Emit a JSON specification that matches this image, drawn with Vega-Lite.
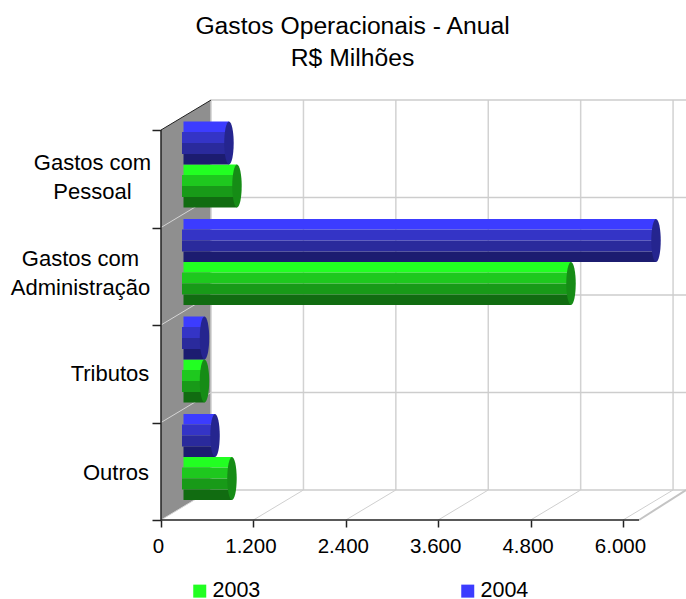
{
"$schema":"https://vega.github.io/schema/vega-lite/v6.json",
"width":525,"height":420,
"autosize":{"type":"none"},
"padding":{"left":161,"top":100,"right":0,"bottom":79},
"background":"white",
"config":{"view":{"stroke":null},"font":"Liberation Sans"},
"title":{"text":["Gastos Operacionais - Anual","R$ Milhões"],"fontSize":24.7,"fontWeight":"normal","color":"black","anchor":"middle","frame":"group","dx":-71,"lineHeight":32,"offset":29},
"datasets":{
"bars":[
{"category":"Gastos com Pessoal","level":3,"year":"2003","value":662},
{"category":"Gastos com Pessoal","level":3,"year":"2004","value":558},
{"category":"Gastos com Administração","level":2,"year":"2003","value":5000},
{"category":"Gastos com Administração","level":2,"year":"2004","value":6104},
{"category":"Tributos","level":1,"year":"2003","value":240},
{"category":"Tributos","level":1,"year":"2004","value":240},
{"category":"Outros","level":0,"year":"2003","value":597},
{"category":"Outros","level":0,"year":"2004","value":377}
],
"ticks":[{"v":0},{"v":1200},{"v":2400},{"v":3600},{"v":4800},{"v":6000}],
"levels":[{"l":0},{"l":1},{"l":2},{"l":3},{"l":4}],
"wall":[{"w":0,"lo":0,"hi":4},{"w":650,"lo":0.3077,"hi":4.3077}]
},
"layer":[
{"data":{"name":"wall"},"mark":{"type":"area","color":"#8f8f8f","orient":"vertical"},
 "encoding":{"x":{"field":"w","type":"quantitative","scale":{"domain":[0,6818],"nice":false,"zero":false},
   "axis":{"values":[0,1200,2400,3600,4800,6000],"title":null,"grid":false,"domain":false,"tickSize":7,"tickColor":"#222","tickWidth":1.5,"labelFontSize":20.5,"labelColor":"black","labelPadding":9,"labelOffset":-3,"labelExpr":"replace(format(datum.value,','),',','.')","labelFlush":false}},
  "y":{"field":"hi","type":"quantitative","scale":{"domain":[0,4.3077],"nice":false,"zero":false},
   "axis":{"values":[0,1,2,3,4],"title":null,"grid":false,"domain":false,"tickSize":9,"tickColor":"#222","tickWidth":1.5,"labelFontSize":22,"labelColor":"black","labelPadding":1,"labelLineHeight":29,
    "labelExpr":"datum.value==3?['Gastos com','Pessoal']:datum.value==2?['Gastos com','Administração']:datum.value==1?'Tributos':datum.value==0?'Outros':''",
    "encoding":{"labels":{"align":{"value":"center"},"dx":{"value":{"signal":"datum.value==3?-59:datum.value==2?-71:datum.value==1?-41.5:-35.5"}},"dy":{"value":{"signal":"datum.value==3?-65:datum.value==2?-67:datum.value==1?-49:-48"}}}}}},
  "y2":{"field":"lo"}}},
{"data":{"name":"ticks"},"transform":[{"calculate":"datum.v+650","as":"b"}],"mark":{"type":"rule","color":"#d2d2d2","strokeWidth":1.5},
 "encoding":{"x":{"field":"b","type":"quantitative"},"y":{"datum":0.3077},"y2":{"datum":4.3077}}},
{"data":{"name":"ticks"},"transform":[{"calculate":"datum.v+650","as":"b"},{"filter":"datum.v>0"}],"mark":{"type":"rule","color":"#cfcfcf","strokeWidth":1},
 "encoding":{"x":{"field":"v","type":"quantitative"},"x2":{"field":"b"},"y":{"datum":0},"y2":{"datum":0.3077}}},
{"data":{"name":"levels"},"transform":[{"calculate":"datum.l+0.3077","as":"b"}],"mark":{"type":"rule","color":"#cdcdcd","strokeWidth":1.5},
 "encoding":{"x":{"datum":650},"x2":{"datum":6818},"y":{"field":"b","type":"quantitative"}}},
{"data":{"name":"levels"},"transform":[{"calculate":"datum.l+0.3077","as":"b"},{"filter":"datum.l<4"}],"mark":{"type":"rule","color":"#d5d5d5","strokeWidth":1},
 "encoding":{"x":{"datum":0},"x2":{"datum":650},"y":{"field":"l","type":"quantitative"},"y2":{"field":"b"}}},
{"data":{"values":[{"a":6208,"b":6818}]},"mark":{"type":"rule","color":"#c4c4c4","strokeWidth":2},
 "encoding":{"x":{"field":"a","type":"quantitative"},"x2":{"field":"b"},"y":{"datum":0},"y2":{"datum":0.3077}}},
{"data":{"values":[{"a":0,"b":6208}]},"mark":{"type":"rule","color":"#222","strokeWidth":1.5},
 "encoding":{"x":{"field":"a","type":"quantitative"},"x2":{"field":"b"},"y":{"datum":0}}},
{"data":{"values":[{"a":0}]},"mark":{"type":"rule","color":"#222","strokeWidth":1.5},
 "encoding":{"x":{"field":"a","type":"quantitative"},"y":{"datum":0},"y2":{"datum":4}}},
{"data":{"values":[{"a":0,"b":650}]},"mark":{"type":"rule","color":"#222","strokeWidth":1},
 "encoding":{"x":{"field":"a","type":"quantitative"},"x2":{"field":"b"},"y":{"datum":4},"y2":{"datum":4.3077}}},
{"data":{"name":"bars"},"transform":[{"calculate":"datum.level+(datum.year=='2003'?0.4256:0.8667)","as":"pos"}],
 "layer":[
 {"mark":{"type":"rect","xOffset":25,"x2Offset":22.5,"yOffset":-21.5,"y2Offset":-11},
  "encoding":{"x":{"field":"value","type":"quantitative"},"x2":{"datum":0},"y":{"field":"pos","type":"quantitative"},"y2":{"field":"pos"},
   "color":{"field":"year","type":"nominal","scale":{"domain":["2003","2004"],"range":["#22ff22","#3c3cff"]},
    "legend":{"title":null,"orient":"none","legendX":28,"legendY":480,"direction":"horizontal","columns":2,"columnPadding":196,"symbolType":"square","symbolSize":169,"symbolStrokeWidth":0,"labelFontSize":21.5,"labelColor":"black","labelOffset":2}}}},
 {"mark":{"type":"rect","xOffset":25,"x2Offset":21,"yOffset":-11,"y2Offset":0},
  "encoding":{"x":{"field":"value","type":"quantitative"},"x2":{"datum":0},"y":{"field":"pos","type":"quantitative"},"y2":{"field":"pos"},
   "color":{"condition":{"test":"datum.year=='2003'","value":"#1ec81e"},"value":"#3434c6"}}},
 {"mark":{"type":"rect","xOffset":25,"x2Offset":21,"yOffset":0,"y2Offset":11},
  "encoding":{"x":{"field":"value","type":"quantitative"},"x2":{"datum":0},"y":{"field":"pos","type":"quantitative"},"y2":{"field":"pos"},
   "color":{"condition":{"test":"datum.year=='2003'","value":"#189a18"},"value":"#2a2a9c"}}},
 {"mark":{"type":"rect","xOffset":25,"x2Offset":22.5,"yOffset":11,"y2Offset":21.5},
  "encoding":{"x":{"field":"value","type":"quantitative"},"x2":{"datum":0},"y":{"field":"pos","type":"quantitative"},"y2":{"field":"pos"},
   "color":{"condition":{"test":"datum.year=='2003'","value":"#116c11"},"value":"#1c1c70"}}},
 {"mark":{"type":"point","filled":true,"opacity":1,"xOffset":25,"size":1849,"strokeWidth":0,"shape":"M0,-1 A0.22,1 0 0 1 0,1 A0.22,1 0 0 1 0,-1 Z"},
  "encoding":{"x":{"field":"value","type":"quantitative"},"y":{"field":"pos","type":"quantitative"},
   "color":{"condition":{"test":"datum.year=='2003'","value":"#168c16"},"value":"#25258f"}}}
 ]}
]
}
